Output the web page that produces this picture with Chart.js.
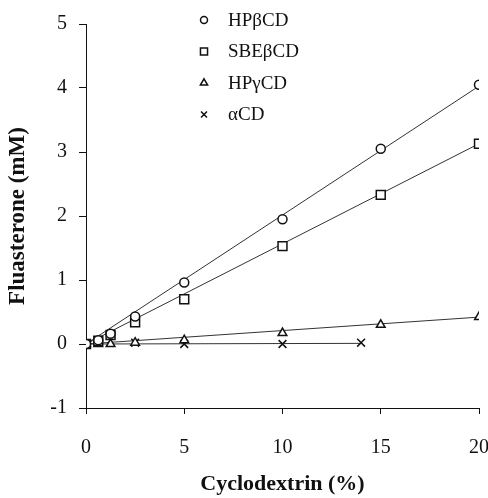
<!DOCTYPE html>
<html lang="en">
<head>
<meta charset="UTF-8">
<title>Fluasterone solubility</title>
<script src="https://cdn.jsdelivr.net/npm/chart.js@4/dist/chart.umd.min.js"></script>
<style>
    html, body { margin: 0; padding: 0; background: #fff; overflow: hidden; }
    /* wider than the window: the "20" label is cut at the right edge in the original */
    #wrap { width: 511px; height: 498px; }
</style>
</head>
<body>
<div id="wrap"><canvas id="phase"></canvas></div>
<script>
    // cyclodextrin concentration (%) and fluasterone (mM)
    let cdConc = [0, 0.625, 1.25, 2.5, 5, 10, 15, 20];
    let hpbcd = [0, 0.06, 0.16, 0.43, 0.96, 1.95, 3.05, 4.05];
    let sbebcd = [0, 0.05, 0.14, 0.34, 0.70, 1.53, 2.33, 3.13];
    let hpgcd = [0, 0, 0, 0.02, 0.06, 0.17, 0.30, 0.42];
    let acdConc = [0, 2.5, 5, 10, 14];
    let acd = [0, 0.02, 0, 0, 0.02];

    // linear fits (end points)
    let fitX = [0, 20];
    let hpbcdFit = [0, 4.03];
    let sbebcdFit = [0, 3.13];
    let hpgcdFit = [0, 0.42];
    let acdFitX = [0, 14];
    let acdFit = [0, 0.01];

    let names = ['HP\u03B2CD', 'SBE\u03B2CD', 'HP\u03B3CD', '\u03B1CD'];
    let xTicks = [0, 5, 10, 15, 20];
    let yTicks = [-1, 0, 1, 2, 3, 4, 5];

    function pts(xs, ys) {
        return xs.map(function (x, i) { return { x: x, y: ys[i] }; });
    }

    let ink = '#111';
    let serif = "'Liberation Serif', 'DejaVu Serif', serif";

    function marker(label, data, style, r) {
        return {
            label: label,
            data: data,
            pointStyle: style,
            pointRadius: r,
            pointHoverRadius: r,
            pointBorderWidth: 1.5,
            pointBorderColor: ink,
            pointBackgroundColor: '#fff',
            showLine: false
        };
    }
    function fit(data) {
        return {
            data: data,
            showLine: true,
            borderColor: '#333',
            borderWidth: 1,
            pointRadius: 0,
            fill: false,
            isFit: true
        };
    }

    let datasets = [
        marker(names[0], pts(cdConc, hpbcd), 'circle', 4.5),
        marker(names[1], pts(cdConc, sbebcd), 'rect', 6.3),
        marker(names[2], pts(cdConc, hpgcd), 'triangle', 5),
        marker(names[3], pts(acdConc, acd), 'crossRot', 5.5),
        fit(pts(fitX, hpbcdFit)),
        fit(pts(fitX, sbebcdFit)),
        fit(pts(fitX, hpgcdFit)),
        fit(pts(acdFitX, acdFit))
    ];

    // legend drawn inside the plot, top middle
    let keyPlugin = {
        id: 'key',
        afterDraw: function (chart) {
            let ctx = chart.ctx;
            ctx.save();
            chart.data.datasets.forEach(function (ds, i) {
                if (ds.isFit) return;
                let y = 20 + i * 31.5;
                ctx.fillStyle = '#fff';
                ctx.strokeStyle = ink;
                ctx.lineWidth = 1.5;
                Chart.helpers.drawPoint(ctx, {
                    pointStyle: ds.pointStyle,
                    radius: ds.pointStyle === 'circle' ? 3.5 : ds.pointStyle === 'rect' ? 5 : 4.2,
                    borderWidth: 1.5
                }, 204, y);
                ctx.fillStyle = ink;
                ctx.font = '19px ' + serif;
                ctx.textBaseline = 'middle';
                ctx.textAlign = 'left';
                ctx.fillText(ds.label, 228, y + 1);
            });
            ctx.restore();
        }
    };

    new Chart('phase', {
        type: 'scatter',
        data: { datasets: datasets },
        options: {
            responsive: true,
            maintainAspectRatio: false,
            animation: false,
            events: [],
            layout: { padding: { top: 20, right: 0, left: 0, bottom: 0 } },
            plugins: { legend: { display: false }, tooltip: { enabled: false } },
            scales: {
                x: {
                    type: 'linear',
                    min: 0, max: 20,
                    afterBuildTicks: function (s) { s.ticks = xTicks.map(function (v) { return { value: v }; }); },
                    afterFit: function (s) { s.height = 90; },
                    ticks: { color: ink, padding: 22, font: { family: serif, size: 20 } },
                    grid: { drawOnChartArea: false, tickLength: 6, color: ink },
                    border: { color: ink, width: 1 },
                    title: {
                        display: true, text: 'Cyclodextrin (%)', color: ink,
                        font: { family: serif, size: 22, weight: 'bold' },
                        padding: { top: 0, bottom: 0 }
                    }
                },
                y: {
                    type: 'linear',
                    min: -1, max: 5,
                    afterBuildTicks: function (s) { s.ticks = yTicks.map(function (v) { return { value: v }; }); },
                    afterFit: function (s) { s.width = 86; },
                    ticks: { color: ink, padding: 12, font: { family: serif, size: 20 } },
                    grid: { drawOnChartArea: false, tickLength: 7, color: ink },
                    border: { color: ink, width: 1 },
                    title: {
                        display: true, text: 'Fluasterone (mM)', color: ink,
                        font: { family: serif, size: 23, weight: 'bold' },
                        padding: { top: 4, bottom: 0 }
                    }
                }
            }
        },
        plugins: [keyPlugin]
    });
</script>
</body>
</html>
